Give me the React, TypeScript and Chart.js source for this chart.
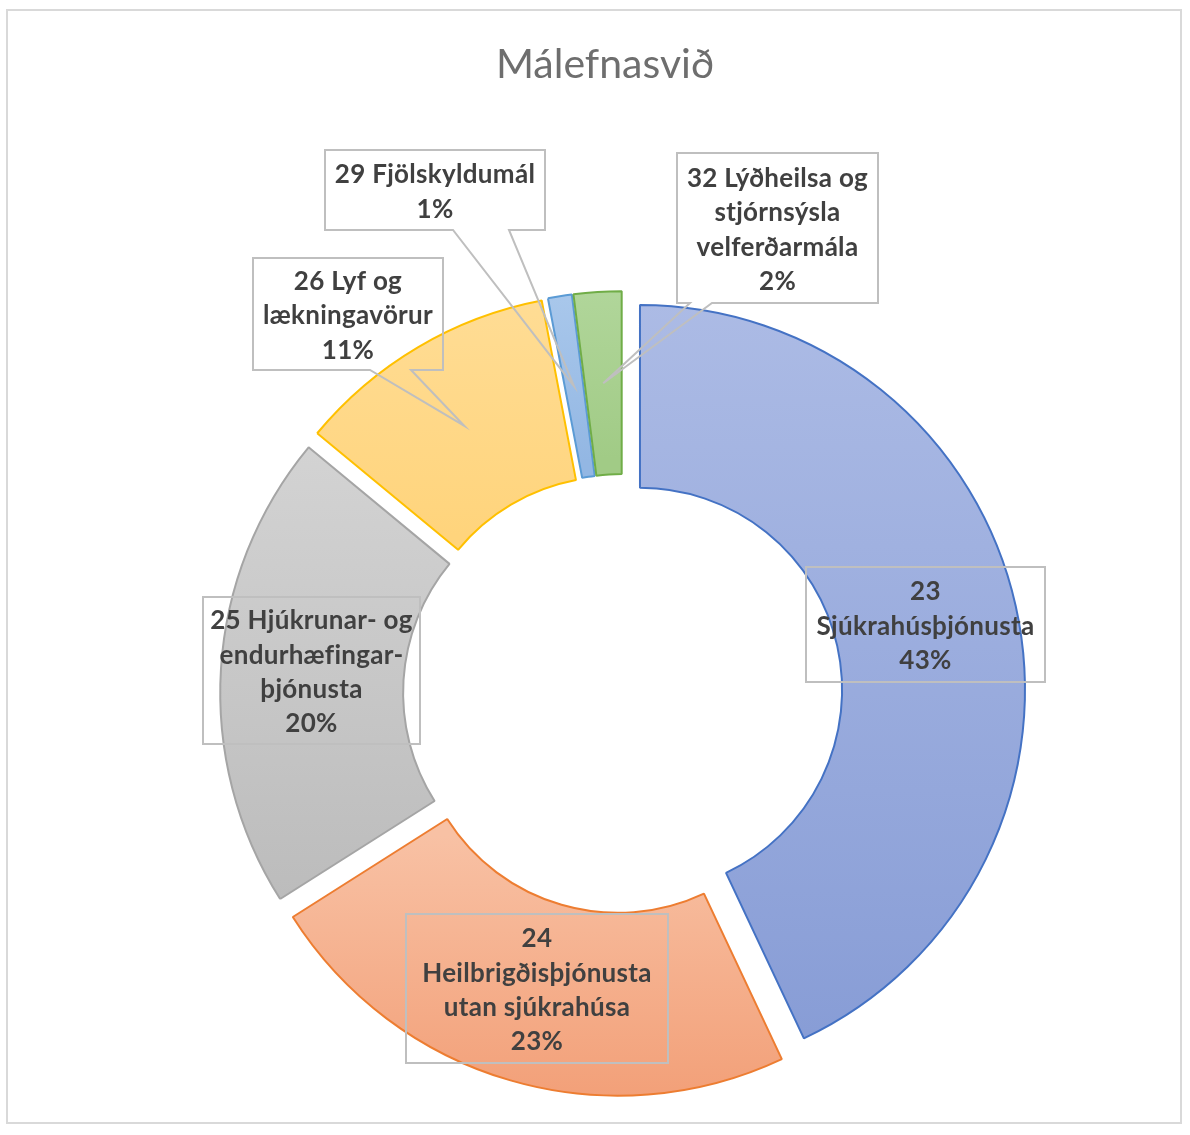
import React, { useEffect, useRef } from 'react';
import { Chart, registerables } from 'chart.js';

Chart.register(...registerables);

// ---- data ----
const TITLE = 'Málefnasvið';
const categories = [
  '23 Sjúkrahúsþjónusta',
  '24 Heilbrigðisþjónusta utan sjúkrahúsa',
  '25 Hjúkrunar- og endurhæfingarþjónusta',
  '26 Lyf og lækningavörur',
  '29 Fjölskyldumál',
  '32 Lýðheilsa og stjórnsýsla velferðarmála',
];
const values = [43, 23, 20, 11, 1, 2];
const labelLines = [
  ['23', 'Sjúkrahúsþjónusta'],
  ['24', 'Heilbrigðisþjónusta', 'utan sjúkrahúsa'],
  ['25 Hjúkrunar- og', 'endurhæfingar-', 'þjónusta'],
  ['26 Lyf og', 'lækningavörur'],
  ['29 Fjölskyldumál'],
  ['32 Lýðheilsa og', 'stjórnsýsla', 'velferðarmála'],
];

// ---- styles ----
const fillTop = ['#ACBBE5', '#F8C1A4', '#D3D3D3', '#FFDD96', '#ABC9EC', '#B2D79C'];
const fillBottom = ['#889DD6', '#F29E76', '#BCBCBC', '#FFD47C', '#93B7E3', '#A1CB86'];
const borderColors = ['#4472C4', '#ED7D31', '#A5A5A5', '#FFC000', '#5B9BD5', '#70AD47'];

const EXPLODE = 17.6;
const RADIUS = 385;
const CUTOUT = '52.5%';

// label box layout (canvas px): x, y, w, h, optional wedge base [x1, x2] on bottom edge
const boxLayout = [
  { x: 806, y: 567, w: 239, h: 115 },
  { x: 406, y: 914, w: 262, h: 149 },
  { x: 203, y: 597, w: 217, h: 147 },
  { x: 253, y: 258, w: 190, h: 112, wedge: [370, 411] },
  { x: 325, y: 150, w: 220, h: 80, wedge: [453, 509] },
  { x: 677, y: 153, w: 201, h: 150, wedge: [690, 712] },
];

function App() {
  const ref = useRef<HTMLCanvasElement>(null);

  useEffect(() => {
    if (!ref.current) return;
    const total = values.reduce((a, b) => a + b, 0);

    const sliceYRange = (i: number, cx: number, cy: number) => {
      const before = values.slice(0, i).reduce((a, b) => a + b, 0);
      const a0 = -Math.PI / 2 + (2 * Math.PI * before) / total;
      const a1 = a0 + (2 * Math.PI * values[i]) / total;
      const mid = (a0 + a1) / 2;
      const oy = Math.sin(mid) * EXPLODE;
      const rIn = RADIUS * 0.525;
      let minY = Infinity;
      let maxY = -Infinity;
      for (let k = 0; k <= 60; k++) {
        const a = a0 + ((a1 - a0) * k) / 60;
        for (const r of [rIn, RADIUS]) {
          const y = cy + Math.sin(a) * r + oy;
          minY = Math.min(minY, y);
          maxY = Math.max(maxY, y);
        }
      }
      return [minY, maxY];
    };

    const explodePlugin = {
      id: 'explode',
      beforeDatasetDraw(chart: any, args: any) {
        const ctx = chart.ctx;
        args.meta.data.forEach((el: any) => {
          const mid = (el.startAngle + el.endAngle) / 2;
          ctx.save();
          ctx.translate(Math.cos(mid) * EXPLODE, Math.sin(mid) * EXPLODE);
          el.draw(ctx, chart.chartArea);
          ctx.restore();
        });
        return false;
      },
    };

    const annotPlugin = {
      id: 'annot',
      afterDraw(chart: any) {
        const ctx = chart.ctx as any;
        ctx.save();
        // frame
        ctx.strokeStyle = '#D9D9D9';
        ctx.lineWidth = 2;
        ctx.strokeRect(7, 10, 1174, 1113);
        // title
        ctx.fillStyle = '#6E6E6E';
        ctx.font = '41px Lato';
        ctx.textAlign = 'center';
        ctx.textBaseline = 'middle';
        ctx.fillText(TITLE, 605, 65);

        const meta = chart.getDatasetMeta(0);
        boxLayout.forEach((b: any, i: number) => {
          const el = meta.data[i];
          const mid = (el.startAngle + el.endAngle) / 2;
          const rr = (el.innerRadius + el.outerRadius) / 2 + EXPLODE;
          const tipX = el.x + Math.cos(mid) * rr;
          const tipY = el.y + Math.sin(mid) * rr;

          ctx.strokeStyle = '#BFBFBF';
          ctx.lineWidth = 2;
          ctx.lineJoin = 'miter';
          ctx.beginPath();
          ctx.moveTo(b.x, b.y);
          ctx.lineTo(b.x + b.w, b.y);
          ctx.lineTo(b.x + b.w, b.y + b.h);
          if (b.wedge) {
            ctx.lineTo(b.wedge[1], b.y + b.h);
            ctx.lineTo(tipX, tipY);
            ctx.lineTo(b.wedge[0], b.y + b.h);
          }
          ctx.lineTo(b.x, b.y + b.h);
          ctx.closePath();
          ctx.stroke();

          const pct = Math.round((values[i] / total) * 100) + '%';
          const lines = [...labelLines[i], pct];
          const lh = 34.4;
          const cxText = b.x + b.w / 2;
          const cyText = b.y + b.h / 2 + 2;
          ctx.fillStyle = '#404040';
          ctx.font = 'bold 26px Lato';
          ctx.letterSpacing = '0.3px';
          ctx.textAlign = 'center';
          ctx.textBaseline = 'middle';
          lines.forEach((ln: string, k: number) => {
            const y = cyText + (k - (lines.length - 1) / 2) * lh;
            ctx.fillText(ln, cxText, y);
          });
          ctx.letterSpacing = '0px';
        });
        ctx.restore();
      },
    };

    const chart = new Chart(ref.current, {
      type: 'doughnut',
      data: {
        labels: categories,
        datasets: [
          {
            data: values,
            backgroundColor: (c: any) => {
              const chart = c.chart;
              const area = chart.chartArea;
              const i = c.dataIndex;
              if (!area || i === undefined) return fillTop[i ?? 0];
              const cx = (area.left + area.right) / 2;
              const cy = (area.top + area.bottom) / 2;
              const [y0, y1] = sliceYRange(i, cx, cy);
              const g = chart.ctx.createLinearGradient(0, y0, 0, y1);
              g.addColorStop(0, fillTop[i]);
              g.addColorStop(1, fillBottom[i]);
              return g;
            },
            borderColor: borderColors,
            borderWidth: 2,
            offset: 0,
          },
        ],
      },
      options: {
        responsive: false,
        animation: false,
        events: [],
        radius: RADIUS,
        cutout: CUTOUT,
        layout: { padding: { left: 100, right: 44.4, top: 300, bottom: 47.4 } },
        plugins: {
          legend: { display: false },
          title: { display: false },
          tooltip: { enabled: false },
        },
      } as any,
      plugins: [explodePlugin, annotPlugin],
    });
    return () => chart.destroy();
  }, []);

  return (
    <div style={{ position: 'absolute', left: 0, top: 0, width: 1190, height: 1135, background: '#fff' }}>
      <canvas ref={ref} width={1190} height={1135} style={{ display: 'block' }} />
    </div>
  );
}

export default App;
